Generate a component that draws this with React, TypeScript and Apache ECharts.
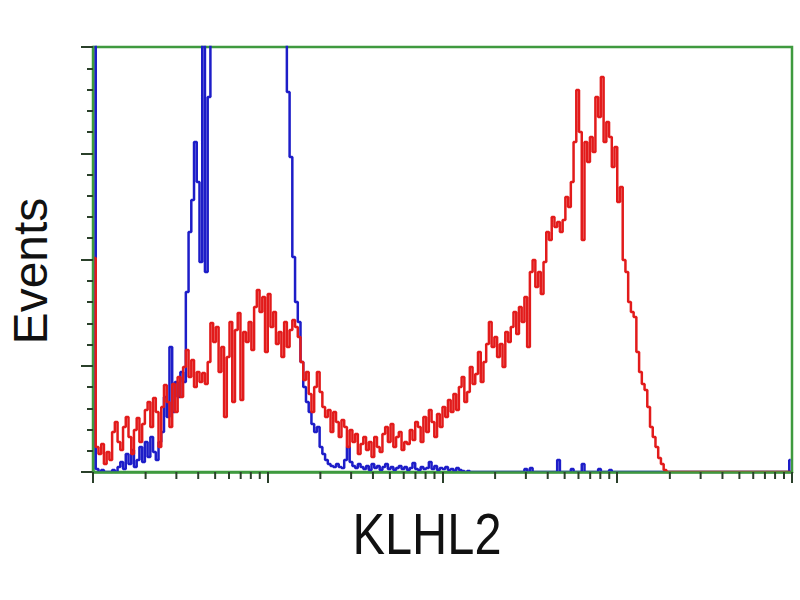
import React, { useEffect, useRef } from "react";
import * as echarts from "echarts";

// ---- data ----
const binsPerDecade = 64;
const xMin = 1;
const xMax = 10000;
const yMax = 425;
const yInterval = 106.25;

const xTitle = "KLHL2";
const yTitle = "Events";

// red histogram (stained sample), 256 channels
const redCounts = [
  214,
  25, 18, 28, 8, 20, 12, 40, 50, 30, 22, 45, 55, 35, 18, 42, 54, 30, 48, 62, 70,
  45, 74, 60, 25, 65, 87, 70, 45, 88, 60, 95, 75, 105, 122, 95, 112, 85, 100, 90, 99,
  88, 110, 149, 130, 145, 100, 125, 55, 115, 150, 70, 142, 159, 72, 140, 130, 150, 122, 165, 182,
  160, 175, 120, 178, 145, 160, 128, 140, 115, 150, 125, 142, 152, 145, 135, 110, 92, 100, 78, 60,
  85, 100, 80, 65, 55, 62, 40, 60, 50, 35, 52, 45, 25, 42, 30, 38, 18, 28, 35, 22,
  30, 15, 35, 25, 20, 38, 45, 30, 48, 25, 35, 40, 22, 30, 28, 42, 32, 50, 45, 30,
  55, 40, 62, 50, 35, 58, 45, 65, 55, 72, 60, 78, 62, 85, 95, 70, 80, 105, 88, 98,
  120, 90, 110, 128, 150, 125, 135, 115, 128, 105, 140, 130, 145, 160, 138, 165, 150, 175, 125, 200,
  212, 185, 200, 178, 210, 240, 232, 255, 245, 250, 240, 252, 275, 265, 290, 330, 382, 340, 232, 330,
  310, 335, 320, 375, 355, 395, 330, 350, 335, 305, 325, 270, 285, 212, 200, 170, 160, 155, 120, 100,
  88, 82, 65, 45, 35, 25, 14, 8, 2,
  0, 0, 0, 0, 0, 0, 0, 0, 0, 0, 0, 0, 0, 0, 0, 0, 0, 0, 0, 0, 0, 0, 0, 0, 0, 0, 0, 0, 0, 0,
  0, 0, 0, 0, 0, 0, 0, 0, 0, 0, 0, 0, 0, 0, 0, 0,
];

// blue histogram (control), 256 channels
const blueCounts = [
  600,
  3, 0, 2, 0, 0, 0, 2, 0, 5, 10, 3, 18, 8, 22, 5, 12, 25, 10, 30, 15,
  35, 20, 12, 30, 40, 75, 55, 125, 60, 90, 75, 100, 90, 180, 240, 272, 330, 290, 210, 600,
  200, 375, 600, 600, 600, 600, 600, 600, 600, 600, 600, 600, 600, 600, 600, 600, 600, 600, 600, 600,
  600, 600, 600, 600, 600, 600, 600, 600, 600, 600, 380, 315, 215, 170, 150, 110, 85, 70, 60, 48,
  40, 45, 25, 18, 12, 8, 6, 5, 8, 5, 4, 12, 25, 10, 6, 4, 8, 5, 3, 6,
  2, 8, 4, 6, 2, 5, 8, 3, 5, 2, 4, 6, 3, 5, 2, 4, 9, 3, 2, 5,
  3, 4, 10, 3, 6, 2, 4, 3, 5, 2, 3, 1, 4, 2, 1, 0, 1, 0, 0, 0,
  0, 0, 0, 0, 0, 0, 0, 0, 0, 0, 0, 0, 0, 0, 0, 0, 0, 3, 0, 4,
  0, 0, 0, 0, 0, 0, 0, 0, 0, 12, 0, 0, 0, 0, 3, 0, 0, 0, 8, 0,
  0, 0, 0, 0, 3, 0, 0, 0, 2, 0, 0, 0, 0, 0, 0, 0, 0, 0, 0, 0,
  0, 0, 0, 0, 0, 0, 0, 0, 0, 0, 0, 0, 0, 0, 0, 0, 0, 0, 0, 0,
  0, 0, 0, 0, 0, 0, 0, 0, 0, 0, 0, 0, 0, 0, 0, 0, 0, 0, 0, 0,
  0, 0, 0, 0, 0, 0, 0, 0, 0, 0, 0, 0, 0, 0, 12,
];

const minorTickValues = [
  2, 3, 4, 5, 6, 7, 8, 9,
  20, 30, 40, 50, 60, 70, 80, 90,
  200, 300, 400, 500, 600, 700, 800, 900,
  2000, 3000, 4000, 5000, 6000, 7000, 8000, 9000,
];

// ---- styles ----
const GREEN = "#3f9a3f";
const TICK = "#2a402a";
const RED = "#e21b1b";
const BLUE = "#1d1dc8";

function toPoints(counts: number[]) {
  return counts.map((c, i) => [Math.pow(10, (i + 0.5) / binsPerDecade), c]);
}

export default function App() {
  const ref = useRef<HTMLDivElement>(null);
  useEffect(() => {
    if (!ref.current) return;
    const chart = echarts.init(ref.current, undefined, { renderer: "svg" });
    const option: any = {
      animation: false,
      backgroundColor: "#ffffff",
      grid: {
        left: 93,
        top: 47,
        right: 8,
        bottom: 128,
        show: true,
        borderColor: GREEN,
        borderWidth: 2.5,
        backgroundColor: "transparent",
      },
      xAxis: {
        type: "log",
        logBase: 10,
        min: xMin,
        max: xMax,
        z: 10,
        axisLine: { show: true, onZero: false, lineStyle: { color: GREEN, width: 2.5 } },
        axisTick: { show: true, inside: false, length: 11, lineStyle: { color: TICK, width: 2 } },
        axisLabel: { show: false },
        splitLine: { show: false },
      },
      yAxis: {
        type: "value",
        min: 0,
        max: yMax,
        interval: yInterval,
        axisLine: { show: true, onZero: false, lineStyle: { color: GREEN, width: 2.5 } },
        axisTick: { show: true, inside: false, length: 12, lineStyle: { color: TICK, width: 2 } },
        minorTick: { show: true, splitNumber: 5, length: 6, lineStyle: { color: TICK, width: 2 } },
        axisLabel: { show: false },
        splitLine: { show: false },
        minorSplitLine: { show: false },
      },
      series: [
        {
          type: "custom",
          silent: true,
          z: 11,
          data: minorTickValues.map((v) => [v, 0]),
          renderItem: (params: any, api: any) => {
            const p = api.coord([api.value(0), api.value(1)]);
            return {
              type: "line",
              shape: { x1: p[0], y1: p[1], x2: p[0], y2: p[1] + 7 },
              style: { stroke: TICK, lineWidth: 2 },
            };
          },
        },
        {
          type: "line",
          name: "control",
          data: toPoints(blueCounts),
          step: "middle",
          symbol: "none",
          clip: true,
          lineStyle: { color: BLUE, width: 2.5 },
        },
        {
          type: "line",
          name: "KLHL2",
          data: toPoints(redCounts),
          step: "middle",
          symbol: "none",
          clip: true,
          lineStyle: { color: RED, width: 2.5 },
        },
      ],
      graphic: [
        {
          type: "text",
          x: 427,
          y: 534,
          scaleX: 0.84,
          style: {
            text: xTitle,
            fontSize: 58,
            fontFamily: "Liberation Sans, Arial, sans-serif",
            fill: "#111111",
            align: "center",
            verticalAlign: "middle",
            textAlign: "center",
            textVerticalAlign: "middle",
          },
        },
        {
          type: "text",
          x: 30,
          y: 271,
          rotation: Math.PI / 2,
          style: {
            text: yTitle,
            fontSize: 48,
            fontFamily: "Liberation Sans, Arial, sans-serif",
            fill: "#111111",
            align: "center",
            verticalAlign: "middle",
            textAlign: "center",
            textVerticalAlign: "middle",
          },
        },
      ],
    };
    chart.setOption(option);
    return () => chart.dispose();
  }, []);
  return (
    <div
      ref={ref}
      style={{ position: "absolute", left: 0, top: 0, width: 800, height: 600 }}
    />
  );
}
